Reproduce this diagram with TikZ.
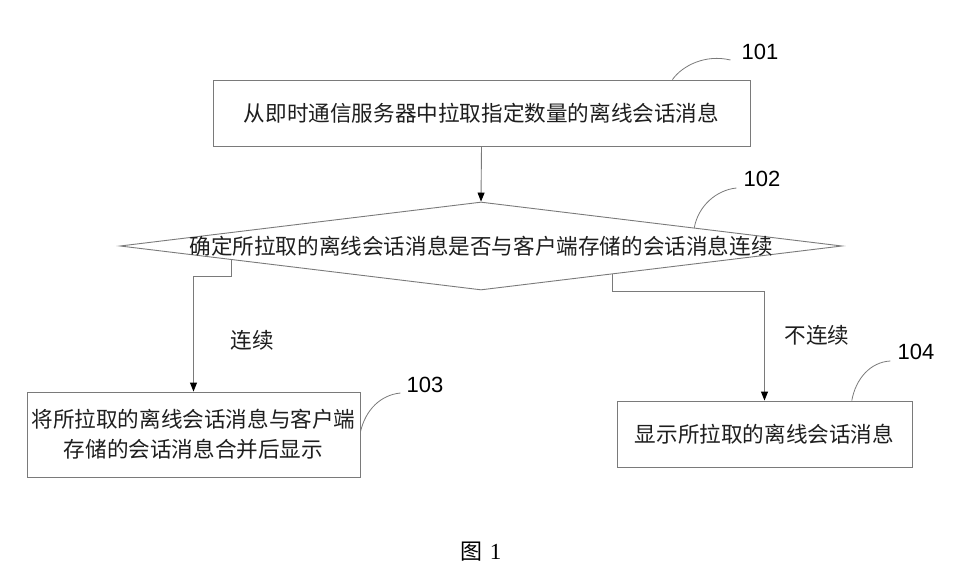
\documentclass[tikz,border=0pt]{standalone}
\usepackage{fontspec}
\setmainfont{Liberation Sans}
\newfontfamily\cjk{Noto Sans CJK SC}
\newfontfamily\numserif{Liberation Serif}
\usetikzlibrary{shapes.geometric,arrows.meta,calc}
\definecolor{linegray}{HTML}{7A7A7A}
\definecolor{txtgray}{HTML}{1E1E1E}
\begin{document}
\begin{tikzpicture}[x=1pt,y=-1pt,
  stepbox/.style={draw=linegray, line width=0.9pt, inner sep=0pt, align=center,
    text=txtgray, font=\cjk\fontsize{21.6}{30}\selectfont},
  cjktext/.style={inner sep=0pt, text=txtgray, font=\cjk\fontsize{21.6}{30}\selectfont},
  numlabel/.style={inner sep=0pt, text=black, font=\fontsize{22}{26}\selectfont},
  conn/.style={draw=linegray, line width=0.9pt, -{Triangle[length=9pt,width=7pt,color=black]}},
  leader/.style={draw=linegray, line width=0.8pt}
]
\useasboundingbox (0,0) rectangle (953,585);
\fill[white] (0,0) rectangle (953,585);

% nodes
\node[stepbox, minimum width=537, minimum height=66] (b101) at (481.5,113)
  {从即时通信服务器中拉取指定数量的离线会话消息};
\node[draw=linegray, line width=0.9pt, diamond, inner sep=0pt,
  minimum width=722, minimum height=88] (d) at (481,246) {};
\node[cjktext] (dt) at (d.center) {确定所拉取的离线会话消息是否与客户端存储的会话消息连续};
\node[stepbox, minimum width=333, minimum height=85] (b103) at (193.5,434.5)
  {将所拉取的离线会话消息与客户端\\存储的会话消息合并后显示};
\node[stepbox, minimum width=295, minimum height=66] (b104) at (764.5,434)
  {显示所拉取的离线会话消息};

% edge labels
\node[cjktext] (yes) at (252,340) {连续};
\node[cjktext] (no) at (817,335) {不连续};

% number labels
\node[numlabel] (l101) at (760,52) {101};
\node[numlabel] (l102) at (762,179) {102};
\node[numlabel] (l103) at (425,385) {103};
\node[numlabel] (l104) at (916,352) {104};

% caption
\node[inner sep=0pt, text=black] (cap) at (481,552)
  {{\cjk\fontsize{22}{24}\selectfont 图}\hspace{7pt}{\numserif\fontsize{23}{24}\selectfont 1}};

% connectors
\draw[conn] (b101.south) -- (d.north);
\coordinate (pl) at ($(d.west)!0.31!(d.south)$);
\coordinate (pr) at ($(d.east)!0.637!(d.south)$);
\draw[conn] (pl) -- ++(0,17) -| (b103.north);
\draw[conn] (pr) -- ++(0,17) -| (b104.north);

% leader curves
\coordinate (s101) at ($(b101.north west)!0.855!(b101.north east)$);
\coordinate (e101) at ($(l101.west)+(-11,8)$);
\draw[leader] (s101) .. controls ($(s101)+(10,-14)$) and ($(e101)+(-25,-6)$) .. (e101);

\coordinate (s102) at ($(d.north)!0.59!(d.east)$);
\coordinate (e102) at ($(l102.west)+(-7,9)$);
\draw[leader] (s102) .. controls ($(s102)+(4,-22)$) and ($(e102)+(-20,2)$) .. (e102);

\coordinate (s103) at ($(b103.north east)!0.47!(b103.south east)$);
\coordinate (e103) at ($(l103.west)+(-6,8)$);
\draw[leader] (s103) .. controls ($(s103)+(5,-22)$) and ($(e103)+(-20,2)$) .. (e103);

\coordinate (s104) at ($(b104.north west)!0.795!(b104.north east)$);
\coordinate (e104) at ($(l104.west)+(-7,9)$);
\draw[leader] (s104) .. controls ($(s104)+(4,-22)$) and ($(e104)+(-20,1)$) .. (e104);
\end{tikzpicture}
\end{document}
